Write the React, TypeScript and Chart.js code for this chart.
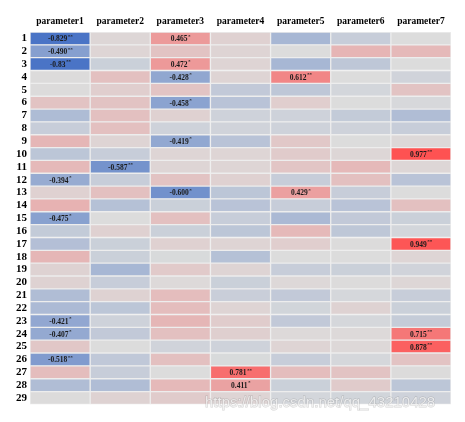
import React, { useEffect, useRef } from "react";
import { Chart, registerables } from "chart.js";

Chart.register(...registerables);

const headers = ["parameter1", "parameter2", "parameter3", "parameter4", "parameter5", "parameter6", "parameter7"];
const rowLabels = Array.from({ length: 29 }, (_, i) => String(i + 1));

const p1 = [-0.829, -0.490, -0.83, 0.01, 0.01, 0.18, -0.26, -0.12, 0.27, -0.18, 0.25, -0.394, 0.08, 0.3, -0.475, -0.14, -0.23, 0.27, 0.07, 0.07, -0.25, -0.27, -0.421, -0.407, 0.15, -0.518, 0.22, -0.25, 0.01];
const p2 = [0.04, 0.05, -0.1, 0.2, 0.1, 0.18, 0.2, 0.2, 0.06, -0.12, -0.587, -0.12, 0.2, -0.22, 0.0, 0.08, -0.1, -0.1, -0.3, -0.12, 0.07, -0.18, -0.08, -0.15, 0.0, -0.16, -0.12, -0.25, 0.07];
const p3 = [0.465, 0.18, 0.472, -0.428, 0.17, -0.458, 0.08, -0.08, -0.419, 0.05, 0.05, 0.18, -0.600, -0.1, 0.2, -0.1, 0.08, -0.02, 0.13, 0.02, 0.22, 0.22, 0.27, 0.2, -0.07, 0.2, 0.0, 0.25, 0.12];
const p4 = [0.08, 0.06, 0.06, 0.06, -0.15, -0.2, -0.08, -0.07, -0.2, 0.05, 0.05, 0.08, -0.18, -0.2, -0.12, -0.18, 0.06, -0.22, 0.06, -0.1, -0.11, 0.06, 0.11, 0.09, -0.08, -0.02, 0.781, 0.411, 0.06];
const p5 = [-0.3, 0.0, -0.3, 0.612, -0.17, 0.1, -0.08, -0.08, 0.14, 0.12, 0.16, -0.12, 0.429, -0.12, -0.28, 0.25, 0.1, 0.0, -0.12, 0.03, -0.15, -0.06, -0.15, 0.02, 0.06, -0.12, 0.22, -0.1, -0.05];
const p6 = [-0.12, 0.28, -0.17, 0.0, -0.05, 0.0, -0.14, -0.08, 0.0, 0.04, 0.25, 0.2, -0.12, -0.2, -0.15, -0.17, 0.01, 0.0, -0.1, 0.01, -0.04, 0.07, -0.04, 0.02, 0.03, -0.04, 0.18, 0.12, -0.06];
const p7 = [0.0, 0.25, 0.0, -0.07, 0.18, -0.03, -0.25, -0.12, 0.03, 0.977, 0.04, -0.2, 0.0, 0.2, -0.1, -0.05, 0.949, 0.05, -0.07, 0.04, -0.12, -0.1, -0.13, 0.715, 0.878, 0.18, 0.01, -0.18, -0.08];

const columns = [p1, p2, p3, p4, p5, p6, p7];

// significant cells: [column index, row index, stars, decimals shown]
const sigCells: [number, number, string, number][] = [
  [0, 0, "**", 3], [0, 1, "**", 3], [0, 2, "**", 2], [2, 0, "*", 3], [2, 2, "*", 3],
  [2, 3, "*", 3], [4, 3, "**", 3], [2, 5, "*", 3], [2, 8, "*", 3], [6, 9, "**", 3],
  [1, 10, "**", 3], [0, 11, "*", 3], [2, 12, "*", 3], [4, 12, "*", 3], [0, 14, "*", 3],
  [6, 16, "**", 3], [0, 22, "*", 3], [0, 23, "*", 3], [6, 23, "**", 3], [6, 24, "**", 3],
  [0, 25, "**", 3], [3, 26, "**", 3], [3, 27, "*", 3],
];

const watermark = "https://blog.csdn.net/qq_43210428";

const SERIF = '"Liberation Serif", "Times New Roman", serif';

function cellColor(v: number): string {
  const t = Math.max(-1, Math.min(1, v));
  const g = [220, 220, 220];
  const end = t < 0 ? [44, 95, 193] : [255, 79, 79];
  const a = Math.abs(t);
  const c = g.map((gv, i) => Math.round(gv + a * (end[i] - gv)));
  return `rgb(${c[0]},${c[1]},${c[2]})`;
}

const labelPlugin = {
  id: "cellLabels",
  afterDatasetsDraw(chart: any) {
    const ctx = chart.ctx;
    ctx.save();
    sigCells.forEach(([c, r, stars, dec]) => {
      const meta = chart.getDatasetMeta(c);
      const el = meta.data[r];
      if (!el) return;
      const cx = (el.x + el.base) / 2;
      const cy = el.y;
      const text = columns[c][r].toFixed(dec);
      ctx.font = `bold 7.5px ${SERIF}`;
      const w1 = ctx.measureText(text).width;
      ctx.font = `bold 5px ${SERIF}`;
      const w2 = ctx.measureText(stars).width;
      const start = cx - (w1 + w2) / 2;
      ctx.fillStyle = "#1a1a1a";
      ctx.textBaseline = "middle";
      ctx.textAlign = "left";
      ctx.font = `bold 7.5px ${SERIF}`;
      ctx.fillText(text, start, cy + 1);
      ctx.font = `bold 5px ${SERIF}`;
      ctx.fillText(stars, start + w1 + 0.5, cy - 2);
    });
    ctx.restore();
  },
  afterDraw(chart: any) {
    const ctx = chart.ctx;
    ctx.save();
    ctx.font = '15px "Liberation Sans", Arial, sans-serif';
    ctx.textBaseline = "middle";
    ctx.textAlign = "left";
    ctx.lineWidth = 1;
    ctx.strokeStyle = "rgba(130,130,130,0.35)";
    ctx.strokeText(watermark, 197, 395);
    ctx.fillStyle = "rgba(250,250,250,0.75)";
    ctx.fillText(watermark, 197, 395);
    ctx.restore();
  },
};

export default function App() {
  const ref = useRef<HTMLCanvasElement>(null);

  useEffect(() => {
    if (!ref.current) return;
    const datasets = columns.map((vals, j) => ({
      label: headers[j],
      data: vals.map(() => [j, j + 1]),
      backgroundColor: vals.map(cellColor),
      borderColor: "#ededed",
      borderWidth: 1,
      borderSkipped: false,
      barPercentage: 1,
      categoryPercentage: 1,
      grouped: false,
    }));
    const chart = new Chart(ref.current, {
      type: "bar",
      data: { labels: rowLabels, datasets: datasets as any },
      options: {
        indexAxis: "y",
        animation: false,
        responsive: true,
        maintainAspectRatio: false,
        events: [],
        layout: { padding: { left: 0, right: 6, top: 0, bottom: 5 } },
        plugins: { legend: { display: false }, tooltip: { enabled: false } },
        scales: {
          x: { type: "linear", min: 0, max: 7, display: false },
          xTop: {
            type: "category",
            axis: "x",
            position: "top",
            labels: headers,
            offset: true,
            grid: { display: false, drawTicks: false },
            border: { display: false },
            ticks: { color: "#000", padding: 5, maxRotation: 0, autoSkip: false, font: { family: SERIF, size: 9.5, weight: "bold" } },
            afterFit: (s: any) => { s.height = 24; },
          } as any,
          y: {
            type: "category",
            offset: true,
            grid: { display: false, drawTicks: false },
            border: { display: false },
            ticks: { color: "#000", padding: 3, autoSkip: false, font: { family: SERIF, size: 11, weight: "bold" } },
            afterFit: (s: any) => { s.width = 22; },
          },
        },
      },
      plugins: [labelPlugin],
    });
    return () => chart.destroy();
  }, []);

  return (
    <div style={{ width: 449, height: 406, position: "relative" }}>
      <canvas ref={ref} />
    </div>
  );
}
